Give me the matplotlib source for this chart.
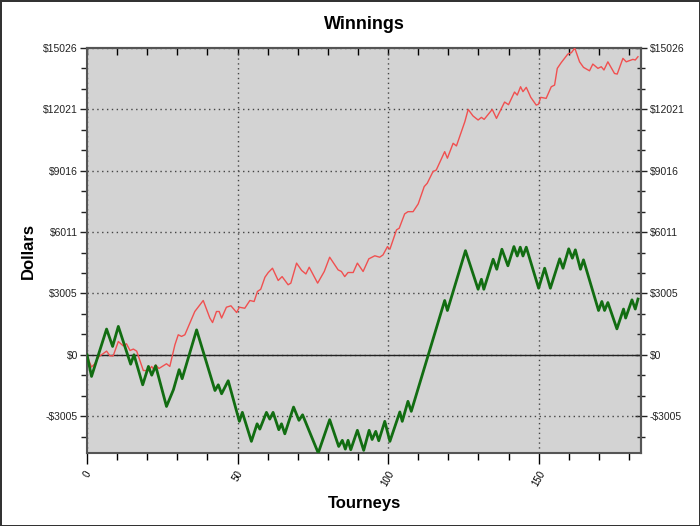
import numpy as np
import matplotlib
matplotlib.use("Agg")
import matplotlib.pyplot as plt
from matplotlib.ticker import FixedLocator, MultipleLocator

plt.rcParams['font.family'] = ['Liberation Sans', 'DejaVu Sans']

# red line (thin)
red_x = [0, 1.5, 2.6, 3.8, 6.5, 7.6, 8.7, 10.4, 12, 13.1, 14.3, 15.4, 16.5, 18.7, 20.4,
         21.5, 22, 22.8, 23.9, 26.4, 27.5, 29.2, 30.3, 31.4, 32.5, 35.8, 38.6, 40.8, 41.7,
         43, 43.9, 44.7, 46.3, 47.8, 49.7, 50.6, 52.4, 54.1, 55.5, 56.6, 57.7, 59.1, 60.2,
         61.6, 63.5, 64.8, 66.8, 67.7, 69.6, 71.3, 72.7, 73.8, 76.6, 78.8, 80.6, 83.4, 84.5,
         85.6, 86.7, 88.4, 89.8, 91.7, 93.6, 95.6, 97.2, 98.3, 99.8, 100.6, 102.8, 103.7,
         105.5, 106.6, 108.3, 110, 112, 113, 114.9, 116, 118.8, 119.7, 121.6, 122.7, 125.5,
         126.6, 128.2, 129.9, 131, 131.9, 134.6, 136, 138.7, 140, 142, 142.9, 144, 144.8,
         145.9, 147.4, 149.2, 150, 150.7, 152.5, 154.2, 155.3, 156.2, 157.5, 159.7, 160.9,
         162, 163.6, 164.9, 166.9, 168, 169.7, 170.8, 171.7, 173, 175.2, 176.1, 178, 179.1,
         181.3, 182.1, 183]
red_y = [-50, -600, -440, -110, 180, -50, -50, 650, 440, 540, 210, 280, 180, -770, -770,
         -570, -700, -500, -670, -440, -570, 490, 980, 900, 980, 2120, 2660, 1800, 1580,
         2120, 2120, 1800, 2330, 2400, 2070, 2330, 2280, 2660, 2610, 3100, 3210, 3800, 4030,
         4240, 3640, 3830, 3430, 3510, 4490, 4130, 3960, 4290, 3510, 4080, 4780, 4160, 4080,
         3830, 4030, 4030, 4490, 4080, 4700, 4850, 4780, 4890, 5300, 5170, 6120, 6200,
         6900, 7010, 7010, 7390, 8240, 8400, 8970, 9050, 9950, 9630, 10360, 10230, 11420,
         12020, 11700, 11500, 11630, 11530, 12020, 11580, 12380, 12250, 12870, 12720, 13130, 12890,
         13100, 12610, 12230, 12280, 12610, 12560, 13130, 13210, 14030, 14310, 14730, 14800,
         15026, 14350, 14080, 13910, 14240, 14030, 14110, 13950, 14350, 13780, 13750, 14520, 14350,
         14470, 14440, 14600]

# green line (thick)
green_x = [0, 1.5, 6.5, 8.5, 10.4, 14.5, 15.6, 18.5, 20.4, 21.5, 22.8, 26.4, 28.7, 30.6,
           31.6, 36.4, 42.5, 43.6, 44.7, 46.9, 50.6, 51.6, 54.6, 56.5, 57.4, 59.6, 60.7,
           61.8, 63.7, 64.6, 65.7, 68.6, 70.4, 71.6, 76.8, 80.6, 83.6, 84.8, 85.8, 86.7,
           87.6, 89.8, 91.9, 93.7, 94.7, 95.9, 96.9, 98.9, 100.6, 103.9, 104.7, 106.6,
           107.7, 118.8, 119.7, 125.7, 129.9, 131, 131.8, 134.9, 136.1, 137.8, 139.8, 141.8,
           142.9, 143.9, 144.8, 145.9, 150, 152, 153.9, 157, 158.1, 160, 161.2, 162.2, 163.9,
           164.9, 169.9, 171, 171.9, 173, 176, 178.2, 178.9, 181, 182.1, 183]
green_y = [0, -1060, 1260, 410, 1390, -460, 0, -1470, -570, -1000, -540, -2530, -1710, -730,
           -1170, 1220, -1750, -1470, -1910, -1270, -3260, -2820, -4240, -3380, -3640, -2820, -3150,
           -2820, -3670, -3380, -3870, -2560, -3210, -2940, -4810, -3180, -4490, -4190, -4620, -4190,
           -4650, -3700, -4680, -3700, -4150, -3750, -4210, -3260, -4240, -2800, -3260, -2280,
           -2770, 2660, 2170, 5100, 3210, 3700, 3210, 4680, 4190, 5170, 4360, 5300,
           4840, 5270, 4840, 5270, 3260, 4240, 3260, 4700, 4240, 5190, 4730, 5140, 4190,
           4650, 2170, 2610, 2170, 2560, 1270, 2240, 1800, 2690, 2240, 2730]

y_ticks = [-3005, 0, 3005, 6011, 9016, 12021, 15026]
y_labels = ['-$3005', '$0', '$3005', '$6011', '$9016', '$12021', '$15026']
x_ticks = [0, 50, 100, 150]

fig = plt.figure(figsize=(7, 5.26), dpi=100)
fig.patch.set_facecolor('white')
fig.patch.set_edgecolor('#333333')
fig.patch.set_linewidth(2)
ax = fig.add_axes([0.1243, 0.1388, 0.7914, 0.7699])
ax.set_facecolor('#d3d3d3')

ax.axhline(0, color='#222222', lw=1, zorder=2)
ax.plot(red_x, red_y, color='#f05050', lw=1, zorder=3)
ax.plot(green_x, green_y, color='#126d12', lw=2, zorder=4)

ax.set_xlim(0, 184)
ax.set_ylim(min(green_y), max(red_y))

# minor y ticks: thirds between majors
minors = []
for a in range(-5, 15):
    if a % 3 != 0:
        minors.append(15026 * a / 15)

ax.yaxis.set_major_locator(FixedLocator(y_ticks))
ax.set_yticklabels(y_labels)
ax.yaxis.set_minor_locator(FixedLocator(minors))
ax.xaxis.set_major_locator(FixedLocator(x_ticks))
ax.xaxis.set_minor_locator(MultipleLocator(10))

ax.grid(True, which='major', linestyle=(0, (1, 2.5)), color='#444444', lw=1)

ax.tick_params(axis='y', which='both', direction='out', labelsize=7.5, colors='#222222', pad=1.5)
ax.tick_params(axis='y', which='major', length=5, width=1)
ax.tick_params(axis='y', which='minor', length=4, width=1)
ax.tick_params(axis='x', which='both', direction='out', labelsize=7)
ax.tick_params(axis='x', which='major', length=8, width=1)
ax.tick_params(axis='x', which='minor', length=5, width=1)
for t in ax.xaxis.get_ticklabels():
    t.set_rotation(60)
    t.set_ha('center')
    t.set_va('top')

# right axis: ticks crossing the frame, same labels
rax = ax.secondary_yaxis('right')
rax.yaxis.set_major_locator(FixedLocator(y_ticks))
rax.set_yticklabels(y_labels)
rax.yaxis.set_minor_locator(FixedLocator(minors))
rax.tick_params(which='both', direction='inout', labelsize=7.5, colors='#222222', pad=2)
rax.tick_params(which='major', length=9, width=1)
rax.tick_params(which='minor', length=6, width=1)

# top axis: ticks pointing in, no labels
tax = ax.secondary_xaxis('top')
tax.xaxis.set_major_locator(FixedLocator(x_ticks))
tax.xaxis.set_minor_locator(MultipleLocator(10))
tax.tick_params(which='both', direction='in', labeltop=False, length=5, width=1)

for a in (ax, rax, tax):
    for s in a.spines.values():
        s.set_color('#555555')
        s.set_linewidth(1.5)

ax.set_title('Winnings', fontsize=13, fontweight='bold', pad=14)
ax.set_ylabel('Dollars', fontsize=12, fontweight='bold', labelpad=5)
ax.set_xlabel('Tourneys', fontsize=12, fontweight='bold', labelpad=6)

fig.savefig('out.png', dpi=100)
